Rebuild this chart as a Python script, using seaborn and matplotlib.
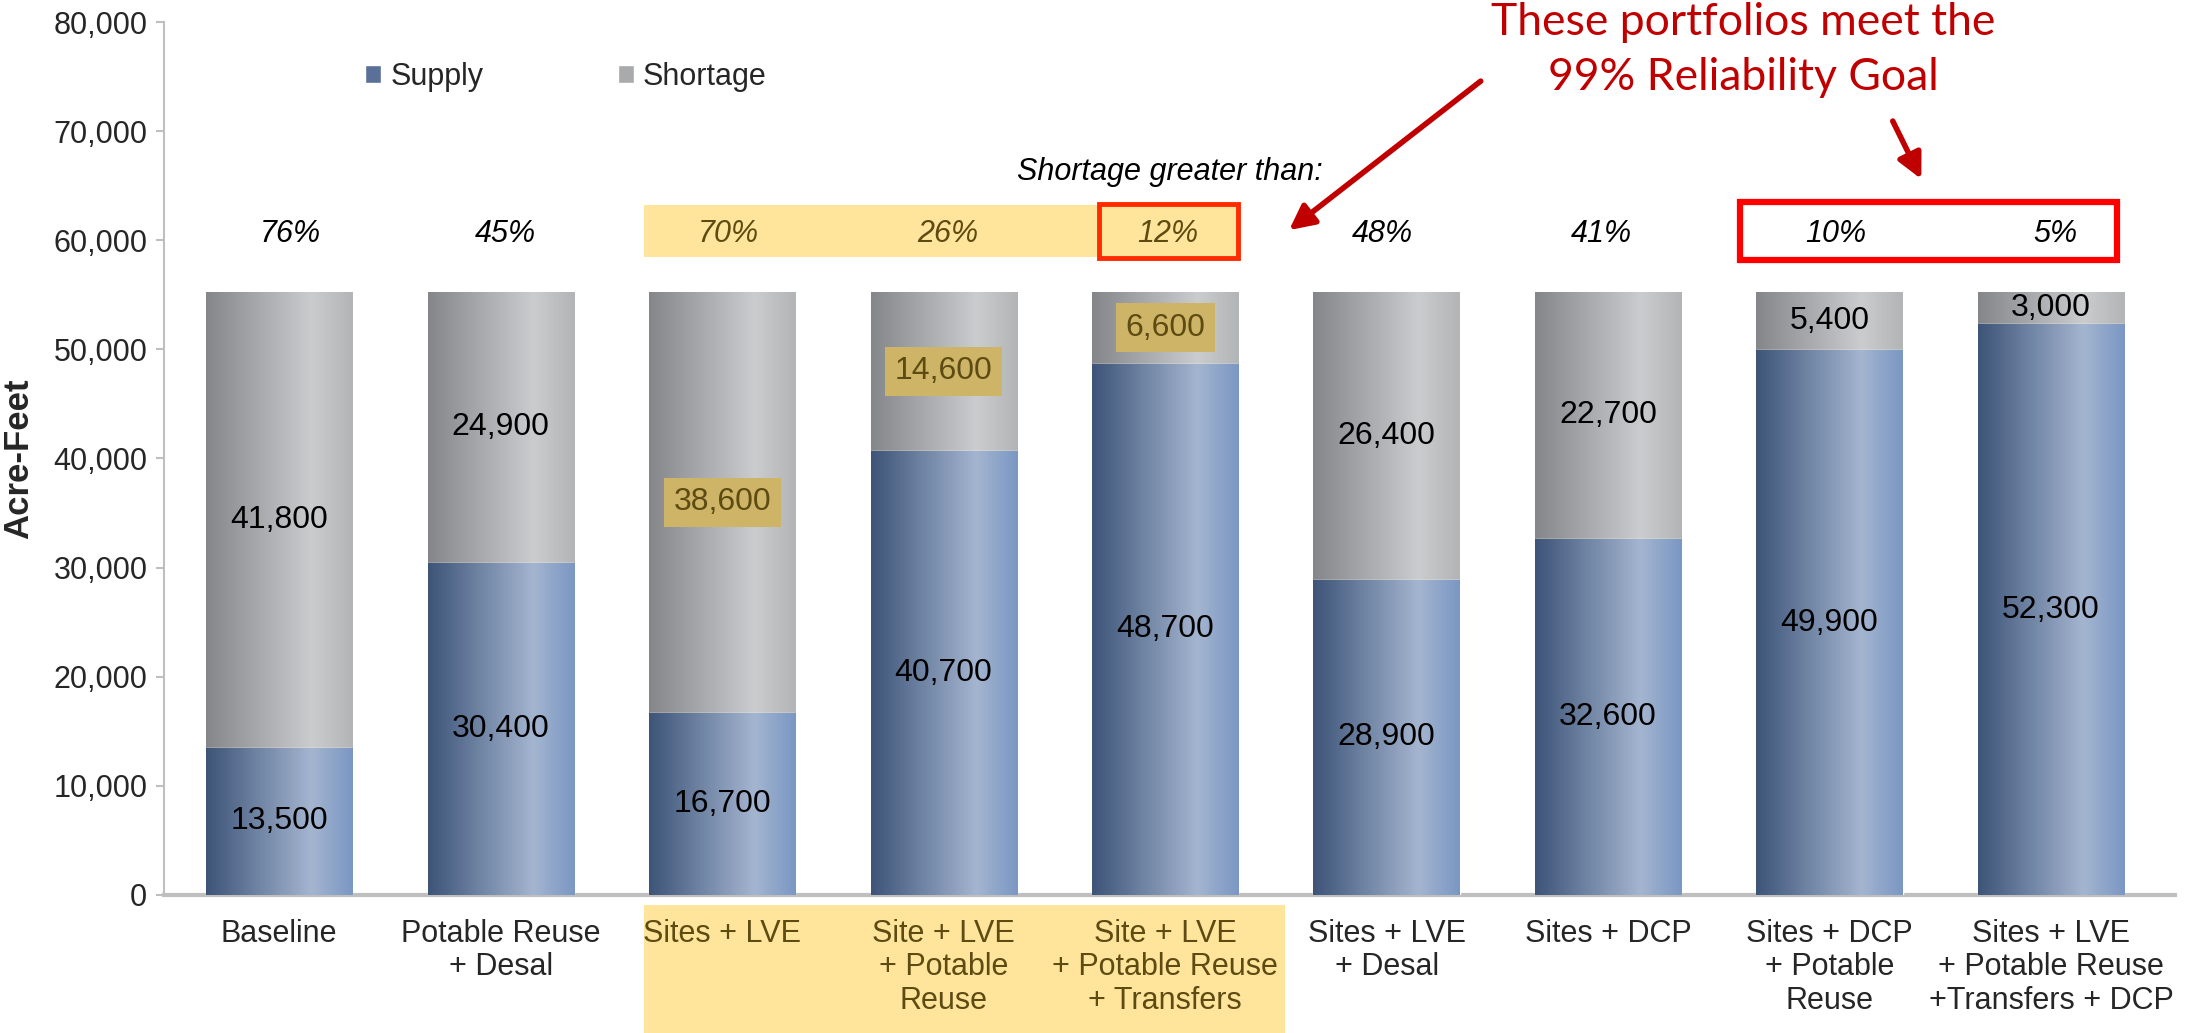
import numpy as np
import pandas as pd
import seaborn as sns
import matplotlib.pyplot as plt
from matplotlib.colors import LinearSegmentedColormap
from matplotlib.patches import Rectangle, Patch
from matplotlib.transforms import blended_transform_factory

portfolios = ["Baseline", "Potable Reuse\n+ Desal", "Sites + LVE",
              "Site + LVE\n+ Potable\nReuse", "Site + LVE\n+ Potable Reuse\n+ Transfers",
              "Sites + LVE\n+ Desal", "Sites + DCP", "Sites + DCP\n+ Potable\nReuse",
              "Sites + LVE\n+ Potable Reuse\n+Transfers + DCP"]
supply = [13500, 30400, 16700, 40700, 48700, 28900, 32600, 49900, 52300]
shortage = [41800, 24900, 38600, 14600, 6600, 26400, 22700, 5400, 3000]
pct_short = ["76%", "45%", "70%", "26%", "12%", "48%", "41%", "10%", "5%"]
highlight = [2, 3, 4]      # yellow group
ytick_vals = [0, 10000, 20000, 30000, 40000, 50000, 60000, 70000, 80000]

df = pd.DataFrame({"portfolio": portfolios, "supply": supply, "shortage": shortage})
df["total"] = df["supply"] + df["shortage"]

sns.set_style("white")
plt.rcParams["font.family"] = ["Liberation Sans", "DejaVu Sans"]

fig = plt.figure(figsize=(21.93, 10.33), dpi=100)
ax = fig.add_axes([0.0748, 0.1336, 0.917, 0.8451])

bw = 0.66
sns.barplot(data=df, x="portfolio", y="total", color="#B0B1B3", width=bw, ax=ax, zorder=2)
sns.barplot(data=df, x="portfolio", y="supply", color="#6F87AD", width=bw, ax=ax, zorder=3)

# horizontal gradient fill, clipped to each bar
cm_short = LinearSegmentedColormap.from_list("sh", [(0, "#85868A"), (0.72, "#CBCCCE"), (1, "#B3B4B6")])
cm_sup = LinearSegmentedColormap.from_list("su", [(0, "#3D5478"), (0.72, "#A4B5D0"), (1, "#7A97C3")])
grad = np.linspace(0, 1, 256).reshape(1, -1)
n = len(portfolios)
for i, p in enumerate(ax.patches):
    cmap = cm_short if i < n else cm_sup
    x0, y0, w, h = p.get_x(), p.get_y(), p.get_width(), p.get_height()
    im = ax.imshow(grad, extent=[x0, x0 + w, y0, y0 + h], aspect="auto", cmap=cmap,
                   zorder=p.get_zorder() + 0.1, interpolation="bilinear")
    im.set_clip_path(p)

ax.set_xlim(-0.52, 8.56)
ax.set_ylim(0, 80000)

# value labels
gold = dict(boxstyle="square,pad=0.3", facecolor="#CDB467", edgecolor="none")
for i in range(n):
    ax.text(i, supply[i] / 2, f"{supply[i]:,}", ha="center", va="center", fontsize=23,
            color="black", zorder=6)
    kw = dict(color="#5E4B12", bbox=gold) if i in highlight else dict(color="black")
    ax.text(i, supply[i] + shortage[i] / 2, f"{shortage[i]:,}", ha="center", va="center",
            fontsize=23, zorder=6, **kw)

# shortage percentage row
ax.add_patch(Rectangle((1.645, 58460), 2.685, 4740, facecolor="#FFE49B", edgecolor="none", zorder=1))
ax.add_patch(Rectangle((3.70, 58350), 0.63, 4950, fill=False, edgecolor="#FF2A00", lw=3.5, zorder=4))
ax.add_patch(Rectangle((6.595, 58200), 1.705, 5260, fill=False, edgecolor="#FF0000", lw=4.5, zorder=4))
pct_x = [0.05, 1.02, 2.03, 3.02, 4.01, 4.98, 5.97, 7.03, 8.02]
for i in range(n):
    c = "#5E4B12" if i in highlight else "black"
    ax.text(pct_x[i], 60600, pct_short[i], ha="center", va="center",
            fontsize=22, style="italic", color=c, zorder=5)
ax.text(4.02, 66300, "Shortage greater than:", ha="center", va="center", fontsize=22,
        style="italic", color="black")

# red callout
ax.text(6.61, 77400, "These portfolios meet the\n99% Reliability Goal", ha="center", va="center",
        fontsize=32, color="#C00000", family=["Lato", "DejaVu Sans"], linespacing=1.42,
        clip_on=False)
arrow = dict(arrowstyle="-|>,head_length=1.5,head_width=0.75", color="#C00000", lw=4)
ax.annotate("", xy=(4.55, 60770), xytext=(5.435, 74740), arrowprops=arrow)
ax.annotate("", xy=(7.42, 65380), xytext=(7.28, 71150), arrowprops=arrow)

# legend
handles = [Patch(facecolor="#5A7099", label="Supply"), Patch(facecolor="#A9AAAC", label="Shortage")]
ax.legend(handles=handles, ncol=2, loc="center left", bbox_to_anchor=(0.0865, 0.937), frameon=False,
          fontsize=22, handlelength=0.52, handleheight=0.5, handletextpad=0.3, columnspacing=4.4,
          borderpad=0.4)

# axes styling
sns.despine(ax=ax, top=True, right=True)
ax.spines["left"].set_color("#BFBFBF")
ax.spines["left"].set_linewidth(1.5)
ax.spines["bottom"].set_color("#BFBFBF")
ax.spines["bottom"].set_linewidth(3)
ax.set_yticks(ytick_vals)
ax.set_yticklabels([f"{v:,}" for v in ytick_vals], fontsize=22)
ax.tick_params(axis="y", length=6, width=1.5, color="#BFBFBF", pad=6, left=True)
ax.tick_params(axis="x", length=0, pad=17, labelsize=22)
ax.set_xticks(range(n))
ax.set_xticklabels(portfolios, linespacing=1.15)
for i, lab in enumerate(ax.get_xticklabels()):
    if i in highlight:
        lab.set_color("#5E4B12")
ax.set_xlabel("")
ax.set_ylabel("Acre-Feet", fontsize=25, fontweight="bold", labelpad=13)

tr = blended_transform_factory(ax.transData, ax.transAxes)
ax.add_patch(Rectangle((1.645, -0.2), 2.895, 0.189, transform=tr, facecolor="#FFE49B",
                       edgecolor="none", clip_on=False, zorder=0))

fig.savefig("out.png", dpi=100)
